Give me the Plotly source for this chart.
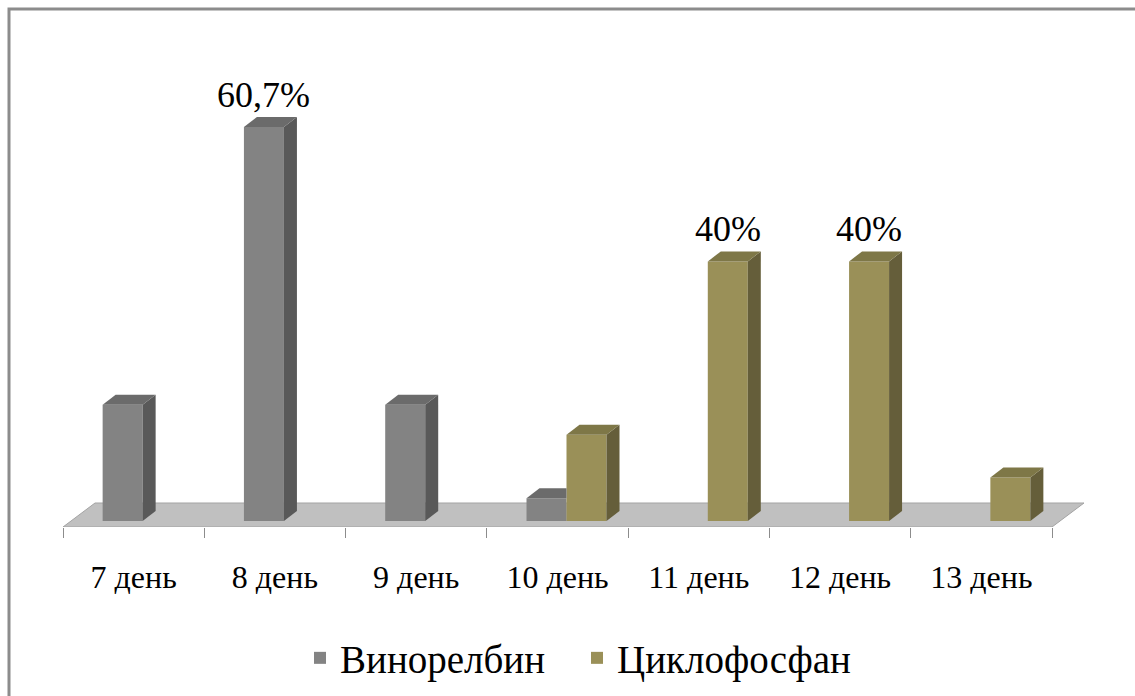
import plotly.graph_objects as go

# ---------------- data ----------------
categories = ["7 день", "8 день", "9 день", "10 день", "11 день", "12 день", "13 день"]
series_names = ["Винорелбин", "Циклофосфан"]
vinorelbin = [17.9, 60.7, 17.9, 3.5, 0, 0, 0]
cyclophosphan = [0, 0, 0, 13.3, 40, 40, 6.7]
vin_labels = ["", "60,7%", "", "", "", "", ""]
cyc_labels = ["", "", "", "", "40%", "40%", ""]

# ---------------- layout geometry (pixels) ----------------
W, H = 1135, 696
AX_L, AX_R = 63, 1052          # category axis span
PLOT_L, PLOT_R = 60, 1095      # plot area horizontally
PLOT_T, PLOT_B = 60, 527       # plot area vertically (bottom = floor front edge)
Y0PX = 521                     # bar baseline pixel
PPU = 6.49                     # pixels per percent
NCAT = len(categories)
CATPX = (AX_R - AX_L) / NCAT

def px2x(p):
    return p / CATPX

def px2y(p):
    return p / PPU

xmin = -0.5 - px2x(AX_L - PLOT_L)
xmax = NCAT - 0.5 + px2x(PLOT_R - AX_R)
ymin = -px2y(PLOT_B - Y0PX)
ymax = px2y(Y0PX - PLOT_T)

BARW = px2x(40)
SHIFT = px2x(9)
DX, DY = px2x(13), px2y(10)
FDX, FDY = px2x(32), px2y(24)

FONT = "Liberation Serif"

colors = {
    0: dict(front="#838383", top="#6b6b6b", side="#595959"),
    1: dict(front="#9a9058", top="#7e7747", side="#655e3a"),
}

fig = go.Figure()

series = [vinorelbin, cyclophosphan]
labels = [vin_labels, cyc_labels]
offsets = [SHIFT - BARW, SHIFT]

# front faces as real bars
for s, vals in enumerate(series):
    fig.add_trace(go.Bar(
        x=list(range(NCAT)), y=vals, name=series_names[s],
        width=BARW, offset=offsets[s],
        marker=dict(color=colors[s]["front"], line=dict(width=0)),
        hoverinfo="x+y",
    ))

# 3D side and top faces derived from the same values
for s, vals in enumerate(series):
    for i, v in enumerate(vals):
        if v <= 0:
            continue
        xl = i + offsets[s]
        xr = xl + BARW
        hidden_right = (s == 0 and series[1][i] > 0)
        if hidden_right:
            tx = [xl, xr, xr, xl + DX, xl]
            ty = [v, v, v + DY, v + DY, v]
        else:
            tx = [xl, xr, xr + DX, xl + DX, xl]
            ty = [v, v, v + DY, v + DY, v]
            sx = [xr, xr, xr + DX, xr + DX, xr]
            sy = [0, v, v + DY, DY, 0]
            fig.add_trace(go.Scatter(x=sx, y=sy, fill="toself", mode="lines",
                                     fillcolor=colors[s]["side"], line=dict(width=0),
                                     showlegend=False, hoverinfo="skip"))
        fig.add_trace(go.Scatter(x=tx, y=ty, fill="toself", mode="lines",
                                 fillcolor=colors[s]["top"], line=dict(width=0),
                                 showlegend=False, hoverinfo="skip"))

# data labels
for s, vals in enumerate(series):
    for i, v in enumerate(vals):
        if labels[s][i]:
            fig.add_annotation(x=i + offsets[s] + BARW / 2, y=v, text=labels[s][i],
                               showarrow=False, yanchor="middle", yshift=32,
                               font=dict(family=FONT, size=36, color="#000000"))

# floor (shape, below traces)
fx0, fx1, fy0 = -0.5, NCAT - 0.5, ymin
floor_path = (f"M {fx0},{fy0} L {fx1},{fy0} L {fx1 + FDX},{fy0 + FDY} "
              f"L {fx0 + FDX},{fy0 + FDY} Z")
fig.add_shape(type="path", path=floor_path, xref="x", yref="y",
              fillcolor="#c0c0c0", line=dict(color="#a3a3a3", width=1), layer="below")

# outer frame (only top and left edges visible)
def paper_x(p):
    return (p - PLOT_L) / (PLOT_R - PLOT_L)

def paper_y(p):
    return (PLOT_B - p) / (PLOT_B - PLOT_T)

fig.add_shape(type="rect", xref="paper", yref="paper",
              x0=paper_x(9), x1=paper_x(1300), y0=paper_y(9), y1=paper_y(900),
              line=dict(color="#8c8c8c", width=3), fillcolor="rgba(0,0,0,0)", layer="below")

fig.update_layout(
    width=W, height=H,
    margin=dict(l=PLOT_L, r=W - PLOT_R, t=PLOT_T, b=H - PLOT_B, autoexpand=False),
    paper_bgcolor="white", plot_bgcolor="rgba(0,0,0,0)",
    barmode="overlay",
    showlegend=True,
    legend=dict(orientation="h", x=paper_x(300), xanchor="left",
                y=paper_y(658), yanchor="middle",
                font=dict(family=FONT, size=39, color="#000000"),
                itemwidth=30, traceorder="normal",
                entrywidth=232, entrywidthmode="pixels"),
    font=dict(family=FONT, color="#000000"),
)
fig.update_xaxes(
    range=[xmin, xmax], showgrid=False, zeroline=False, showline=False,
    tickmode="array", tickvals=list(range(NCAT)), ticktext=categories,
    ticks="", ticklabelstandoff=28,
    tickfont=dict(family=FONT, size=32, color="#000000"),
    minor=dict(tickmode="array", tickvals=[k - 0.5 for k in range(NCAT + 1)],
               ticks="outside", ticklen=10, tickcolor="#8c8c8c", tickwidth=1,
               showgrid=False),
    automargin=False,
    fixedrange=True,
)
fig.update_yaxes(range=[ymin, ymax], visible=False, fixedrange=True, automargin=False)

fig.write_html("out.html")
